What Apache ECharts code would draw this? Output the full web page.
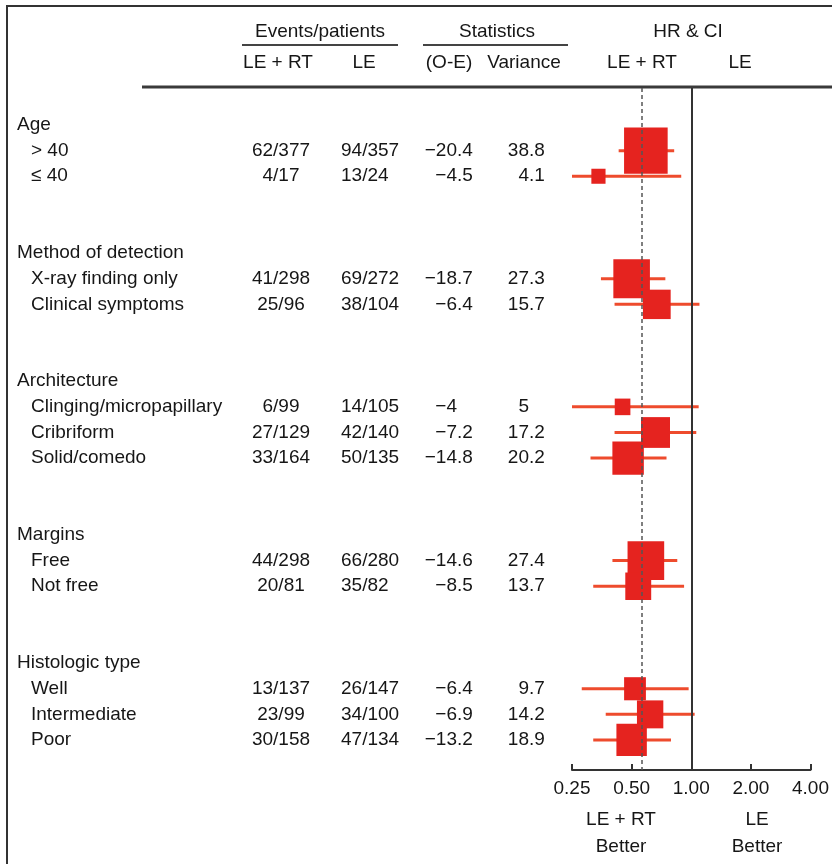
<!DOCTYPE html>
<html><head><meta charset="utf-8">
<script src="https://cdn.jsdelivr.net/npm/echarts@6/dist/echarts.min.js"></script>
<style>html,body{margin:0;padding:0;background:#fff}#c{width:832px;height:864px}</style>
</head><body><div id="c"></div>
<script>
// ---- data ----
const groups = ['Age', 'Method of detection', 'Architecture', 'Margins', 'Histologic type'];
const subgroups = ['> 40', '\u2264 40', 'X-ray finding only', 'Clinical symptoms', 'Clinging/micropapillary',
  'Cribriform', 'Solid/comedo', 'Free', 'Not free', 'Well', 'Intermediate', 'Poor'];
const subgroupGroup = [0, 0, 1, 1, 2, 2, 2, 3, 3, 4, 4, 4];
const eventsLERT = ['62/377', '4/17', '41/298', '25/96', '6/99', '27/129', '33/164', '44/298', '20/81', '13/137', '23/99', '30/158'];
const eventsLE = ['94/357', '13/24', '69/272', '38/104', '14/105', '42/140', '50/135', '66/280', '35/82', '26/147', '34/100', '47/134'];
const oMinusE = ['\u221220.4', '\u22124.5', '\u221218.7', '\u22126.4', '\u22124', '\u22127.2', '\u221214.8', '\u221214.6', '\u22128.5', '\u22126.4', '\u22126.9', '\u221213.2'];
const variance = ['38.8', '4.1', '27.3', '15.7', '5', '17.2', '20.2', '27.4', '13.7', '9.7', '14.2', '18.9'];
const hr = [0.59, 0.34, 0.50, 0.67, 0.45, 0.66, 0.48, 0.59, 0.54, 0.52, 0.62, 0.50];
const ciLow = [0.43, 0.25, 0.35, 0.41, 0.25, 0.41, 0.31, 0.40, 0.32, 0.28, 0.37, 0.32];
const ciHigh = [0.82, 0.89, 0.74, 1.10, 1.09, 1.06, 0.75, 0.85, 0.92, 0.97, 1.04, 0.79];
const overallHR = 0.56;
const noEffect = 1;
const axisTicks = [0.25, 0.5, 1, 2, 4];
const headerTop = ['Events/patients', 'Statistics', 'HR & CI'];
const headerSub = ['LE + RT', 'LE', '(O-E)', 'Variance', 'LE + RT', 'LE'];
const footer = [['LE + RT', 'Better'], ['LE', 'Better']];

// ---- layout ----
const FONT = '19px "Liberation Sans", Arial, sans-serif';
const TXT = '#161616';
const rows = [];
const itemSlot = [];
let slot = 0;
groups.forEach((g, gi) => {
  if (gi > 0) slot += 2;
  rows.push({ kind: 'group', text: g, slot: slot++ });
  subgroupGroup.forEach((sg, i) => {
    if (sg === gi) { itemSlot[i] = slot; rows.push({ kind: 'item', i: i, slot: slot++ }); }
  });
});

const chart = echarts.init(document.getElementById('c'), null, { renderer: 'canvas' });

const option = {
  animation: false,
  backgroundColor: '#fff',
  grid: { left: 572, right: 15, top: 88, bottom: 94 },
  xAxis: {
    type: 'log', logBase: 2, min: axisTicks[0], max: axisTicks[axisTicks.length - 1], splitNumber: 4,
    position: 'bottom',
    axisLine: { onZero: false, lineStyle: { color: '#333', width: 2 } },
    axisTick: { inside: true, length: 6, lineStyle: { color: '#333', width: 2 } },
    axisLabel: { formatter: v => Number(v).toFixed(2), fontSize: 19, color: TXT, margin: 9,
      fontFamily: '"Liberation Sans", Arial, sans-serif' },
    splitLine: { show: false }
  },
  yAxis: { type: 'value', inverse: true, min: -1.444, max: 25.171, show: false },
  series: [
    {
      type: 'custom', clip: true, z: 2,
      data: subgroups.map((_, i) => [ciLow[i], ciHigh[i], itemSlot[i]]),
      encode: { x: [0, 1], y: 2 },
      renderItem: (params, api) => {
        const p1 = api.coord([api.value(0), api.value(2)]);
        const p2 = api.coord([api.value(1), api.value(2)]);
        return { type: 'line', shape: { x1: p1[0], y1: p1[1], x2: p2[0], y2: p2[1] },
          style: { stroke: '#ee4b2d', lineWidth: 3 } };
      }
    },
    {
      type: 'scatter', z: 3, symbol: 'rect',
      data: subgroups.map((_, i) => [hr[i], itemSlot[i], parseFloat(variance[i])]),
      symbolSize: v => { const s = 7 * Math.sqrt(v[2]); return [s, s * 1.06]; },
      itemStyle: { color: '#e5231f', opacity: 1 }
    },
    {
      type: 'scatter', z: 5, data: [],
      markLine: {
        silent: true, symbol: 'none', label: { show: false },
        data: [
          { xAxis: noEffect, lineStyle: { color: '#333', width: 2, type: 'solid' } },
          { xAxis: overallHR, lineStyle: { color: '#555', width: 1.5, type: [4, 3] } }
        ]
      }
    }
  ]
};
chart.setOption(option);

const yOf = s => chart.convertToPixel({ yAxisIndex: 0 }, s);
const g = [];
const txt = (text, x, y, align, extra) => g.push(Object.assign({
  type: 'text', x: x, y: y, silent: true,
  style: { text: text, font: FONT, fill: TXT, textAlign: align || 'left', textVerticalAlign: 'middle' }
}, extra || {}));
const line = (x1, y1, x2, y2, w, c) => g.push({ type: 'line', silent: true,
  shape: { x1: x1, y1: y1, x2: x2, y2: y2 }, style: { stroke: c || '#333', lineWidth: w } });

// frame
line(7, 6, 832, 6, 2, '#333');
line(7, 5, 7, 864, 2, '#333');
// header rule
line(142, 87, 832, 87, 3, '#3a3a3a');
// column headers
txt(headerTop[0], 320, 32, 'center');
txt(headerTop[1], 497, 32, 'center');
txt(headerTop[2], 688, 32, 'center');
line(242, 45, 398, 45, 2, '#444');
line(423, 45, 568, 45, 2, '#444');
const subX = [278, 364, 449, 524, 642, 740];
headerSub.forEach((h, k) => txt(h, subX[k], 63, 'center'));

// rows
const decOE = 457, decVar = 529;
const splitDec = (s, dx, y) => {
  const p = s.indexOf('.');
  const ip = p < 0 ? s : s.slice(0, p);
  const fp = p < 0 ? '' : s.slice(p);
  txt(ip, dx, y, 'right');
  if (fp) txt(fp, dx, y, 'left');
};
rows.forEach(r => {
  const y = yOf(r.slot);
  if (r.kind === 'group') { txt(r.text, 17, y, 'left'); return; }
  const i = r.i;
  txt(subgroups[i], 31, y, 'left');
  txt(eventsLERT[i], 281, y, 'center');
  txt(eventsLE[i], 341, y, 'left');
  splitDec(oMinusE[i], decOE, y);
  splitDec(variance[i], decVar, y);
});

// footer
footer.forEach((f, k) => {
  const cx = k === 0 ? 621 : 757;
  txt(f[0], cx, 820, 'center');
  txt(f[1], cx, 847, 'center');
});

chart.setOption({ graphic: { elements: g } });
</script>
</body></html>
